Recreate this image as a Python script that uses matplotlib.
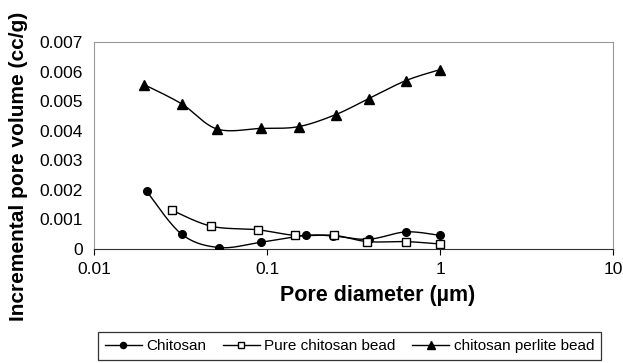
import numpy as np
import matplotlib
matplotlib.use("Agg")
import matplotlib.pyplot as plt

plt.rcParams["font.family"] = ["Liberation Sans", "DejaVu Sans"]

# Pore diameter (um) and incremental pore volume (cc/g)
d_chitosan = [0.0201, 0.0321, 0.053, 0.0923, 0.168, 0.242, 0.387, 0.636, 1.0]
v_chitosan = [0.00196, 0.00050, 0.00005, 0.00023, 0.00046, 0.00044, 0.00033, 0.00058, 0.00046]

d_pure = [0.0282, 0.0477, 0.0884, 0.146, 0.244, 0.38, 0.636, 1.0]
v_pure = [0.00131, 0.00077, 0.00065, 0.00046, 0.00046, 0.00025, 0.00025, 0.00017]

d_perlite = [0.0195, 0.0321, 0.0514, 0.0923, 0.152, 0.25, 0.387, 0.636, 1.0]
v_perlite = [0.00556, 0.00491, 0.00406, 0.00408, 0.00414, 0.00455, 0.00509, 0.00570, 0.00607]

yticks = [0, 0.001, 0.002, 0.003, 0.004, 0.005, 0.006, 0.007]
ytick_labels = ["0", "0.001", "0.002", "0.003", "0.004", "0.005", "0.006", "0.007"]
xticks = [0.01, 0.1, 1, 10]
xtick_labels = ["0.01", "0.1", "1", "10"]


def smooth(x, y, n=20):
    # Catmull-Rom style curve through the points, in log-x space
    lx = np.log10(x)
    y = np.asarray(y)
    px = np.concatenate([[lx[0]], lx, [lx[-1]]])
    py = np.concatenate([[y[0]], y, [y[-1]]])
    xs, ys = [], []
    t = np.linspace(0, 1, n)
    for i in range(1, len(px) - 2):
        p0, p1, p2, p3 = px[i - 1], px[i], px[i + 1], px[i + 2]
        q0, q1, q2, q3 = py[i - 1], py[i], py[i + 1], py[i + 2]
        # bezier control points
        c1x, c1y = p1 + (p2 - p0) / 6, q1 + (q2 - q0) / 6
        c2x, c2y = p2 - (p3 - p1) / 6, q2 - (q3 - q1) / 6
        bx = (1 - t) ** 3 * p1 + 3 * (1 - t) ** 2 * t * c1x + 3 * (1 - t) * t ** 2 * c2x + t ** 3 * p2
        by = (1 - t) ** 3 * q1 + 3 * (1 - t) ** 2 * t * c1y + 3 * (1 - t) * t ** 2 * c2y + t ** 3 * q2
        xs.extend(bx)
        ys.extend(by)
    return 10 ** np.array(xs), np.array(ys)


fig = plt.figure(figsize=(6.23, 3.63), dpi=100)
ax = fig.add_axes([0.151, 0.314, 0.833, 0.57])

series = [
    (d_chitosan, v_chitosan, dict(marker="o", mfc="black", ms=5.5), "Chitosan"),
    (d_pure, v_pure, dict(marker="s", mfc="white", ms=5.5), "Pure chitosan bead"),
    (d_perlite, v_perlite, dict(marker="^", mfc="black", ms=6.5), "chitosan perlite bead"),
]
handles = []
for d, v, mk, name in series:
    sx, sy = smooth(d, v)
    ax.plot(sx, sy, color="black", lw=1.0, zorder=2)
    ax.plot(d, v, ls="none", mec="black", mew=1.0, zorder=3, **mk)
    leg_mk = dict(mk, ms=mk["ms"] * 0.8)
    h, = ax.plot([], [], color="black", lw=1.0, mec="black", label=name, **leg_mk)
    handles.append(h)

ax.set_xscale("log")
ax.set_xlim(0.01, 10)
ax.set_ylim(0, 0.007)
ax.set_xticks(xticks)
ax.set_xticklabels(xtick_labels)
ax.xaxis.set_minor_locator(matplotlib.ticker.NullLocator())
ax.set_yticks(yticks)
ax.set_yticklabels(ytick_labels)
ax.tick_params(axis="y", length=0, labelsize=12.5, pad=8)
ax.tick_params(axis="x", length=4, direction="out", labelsize=12.5, pad=5)

for s in ["top", "right", "left"]:
    ax.spines[s].set_color("#999999")
ax.spines["bottom"].set_color("#333333")

# axis titles
fig.text(378 / 623, 1 - 296 / 363, "Pore diameter (\u00b5m)", fontsize=15.5,
         fontweight="bold", ha="center", va="center")
fig.text(19 / 623, 1 - 166 / 363, "Incremental pore volume (cc/g)", fontsize=15,
         fontweight="bold", ha="center", va="center", rotation=90)

leg = fig.legend(handles=handles, loc="lower center", bbox_to_anchor=(0.561, 0.0),
                 ncol=3, fontsize=11, frameon=True, fancybox=False, edgecolor="black",
                 handlelength=2.4, columnspacing=1.1, handletextpad=0.3, borderpad=0.45,
                 borderaxespad=0.2)
leg.get_frame().set_linewidth(0.9)

fig.savefig("out.png", dpi=100)
